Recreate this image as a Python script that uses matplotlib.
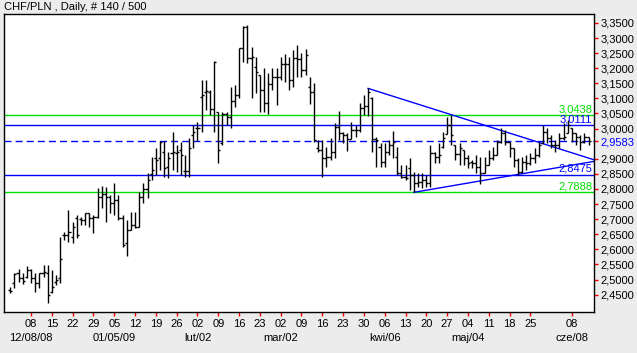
import matplotlib
matplotlib.use("Agg")
import matplotlib.pyplot as plt
from matplotlib.transforms import blended_transform_factory
import numpy as np

plt.rcParams['font.family'] = ['Liberation Sans', 'DejaVu Sans']

title = "CHF/PLN , Daily, # 140 / 500"

opens = [2.4642, 2.4896, 2.5205, 2.5040, 2.5095, 2.5315, 2.5040, 2.4874, 2.5205, 2.5205,
         2.4598, 2.4929, 2.5040, 2.6475, 2.6475, 2.6419, 2.7027, 2.6993, 2.6971, 2.7192,
         2.7027, 2.7082, 2.7744, 2.7832, 2.7744, 2.7523, 2.7634, 2.7027, 2.6221, 2.6640,
         2.6806, 2.6750, 2.7744, 2.7987, 2.8500, 2.9013, 2.9013, 2.9233, 2.8737, 2.9178,
         2.9178, 2.9289, 2.8593, 2.8593, 2.9785, 3.0006, 3.1055, 3.1220, 3.1220, 3.0646,
         3.0558, 2.9509, 3.0470, 3.0393, 3.0911, 3.1110, 3.2655, 3.3373, 3.2324, 3.2048,
         3.1772, 3.1275, 3.0834, 3.1474, 3.1717, 3.1717, 3.2125, 3.2125, 3.1607, 3.2324,
         3.2291, 3.1938, 3.1386, 3.1198, 2.9344, 2.9288, 2.9013, 2.9068, 2.9233, 3.0039,
         2.9840, 2.9785, 2.9642, 2.9951, 2.9951, 3.0668, 3.0745, 3.1000, 2.9642, 2.9400,
         2.8902, 2.9233, 2.9454, 2.9068, 2.8516, 2.8405, 2.8681, 2.8460, 2.8185, 2.8240,
         2.8295, 2.8185, 2.9200, 2.9068, 2.9400, 2.9808, 3.0117, 2.9454, 2.9145, 2.9289,
         2.9013, 2.8902, 2.8847, 2.8737, 2.8516, 2.8792, 2.9035, 2.9123, 2.9565, 2.9841,
         2.9565, 2.9344, 2.8958, 2.8549, 2.8902, 2.8847, 2.9013, 2.9123, 2.9510, 2.9896,
         2.9675, 2.9454, 2.9454, 2.9675, 2.9841, 3.0006, 2.9841, 2.9730, 2.9565, 2.9730]
highs = [2.4764, 2.5205, 2.5337, 2.5227, 2.5448, 2.5337, 2.5205, 2.5227, 2.5481, 2.5481,
         2.5315, 2.5150, 2.6419, 2.6585, 2.7302, 2.6916, 2.7137, 2.7082, 2.7214, 2.7192,
         2.7137, 2.8020, 2.8097, 2.8075, 2.7799, 2.8186, 2.7799, 2.7137, 2.6971, 2.7247,
         2.7247, 2.7910, 2.8186, 2.8539, 2.9068, 2.9344, 2.9587, 2.9587, 2.9233, 2.9896,
         2.9454, 2.9565, 2.9123, 2.9675, 3.0117, 3.0227, 3.1607, 3.1607, 3.1275, 3.2236,
         3.0558, 3.0558, 3.0558, 3.1386, 3.1441, 3.2677, 3.3406, 3.3428, 3.2688, 3.2379,
         3.1772, 3.1993, 3.1849, 3.1993, 3.1993, 3.2379, 3.2457, 3.2379, 3.2600, 3.2766,
         3.2489, 3.2622, 3.1717, 3.1496, 2.9620, 2.9620, 2.9399, 2.9675, 3.0171, 3.0580,
         2.9896, 2.9840, 3.0227, 3.0116, 3.0834, 3.1110, 3.1331, 3.1055, 2.9730, 2.9509,
         2.9509, 2.9620, 2.9929, 2.9399, 2.8792, 2.8792, 2.9013, 2.8571, 2.8516, 2.8516,
         2.8460, 2.9454, 2.9233, 2.9509, 2.9900, 3.0393, 3.0448, 2.9454, 2.9510, 2.9289,
         2.9123, 2.8958, 2.9123, 2.9068, 2.9068, 2.9289, 2.9399, 2.9620, 3.0006, 2.9951,
         2.9565, 2.9344, 2.9013, 2.9068, 2.9123, 2.9178, 2.9344, 2.9565, 3.0117, 3.0006,
         2.9785, 2.9620, 2.9841, 3.0172, 3.0282, 3.0006, 2.9841, 2.9785, 2.9841, 2.9730]
lows = [2.4565, 2.4709, 2.4929, 2.4852, 2.5040, 2.4896, 2.4576, 2.4709, 2.5095, 2.4234,
        2.4565, 2.4819, 2.4896, 2.6309, 2.6254, 2.6221, 2.6364, 2.6806, 2.6806, 2.6750,
        2.6530, 2.7027, 2.7358, 2.6916, 2.7192, 2.7137, 2.6971, 2.6088, 2.5779, 2.6640,
        2.6695, 2.6750, 2.7523, 2.7689, 2.8300, 2.8461, 2.8626, 2.8406, 2.8350, 2.8626,
        2.8571, 2.8461, 2.8406, 2.8406, 2.9344, 2.9587, 2.9896, 3.0613, 3.0448, 2.9874,
        2.8847, 2.9454, 3.0117, 3.0006, 3.0724, 3.0999, 3.2214, 3.2159, 3.0999, 3.1165,
        3.0558, 3.0558, 3.0470, 3.1275, 3.0779, 3.1607, 3.1551, 3.1275, 3.1386, 3.1717,
        3.1717, 3.1772, 3.0801, 2.9564, 2.9233, 2.8383, 2.8737, 2.8957, 2.9013, 2.9620,
        2.9509, 2.9255, 2.9642, 2.9730, 2.9896, 3.0447, 3.0414, 2.9233, 2.8737, 2.8737,
        2.8737, 2.9123, 2.9013, 2.8460, 2.8350, 2.8295, 2.7964, 2.7888, 2.8074, 2.8019,
        2.8074, 2.8074, 2.8847, 2.8847, 2.9350, 2.9808, 2.9454, 2.8958, 2.8792, 2.8792,
        2.8704, 2.8704, 2.8516, 2.8152, 2.8516, 2.8792, 2.8958, 2.9123, 2.9510, 2.9454,
        2.9068, 2.8737, 2.8461, 2.8516, 2.8626, 2.8792, 2.8847, 2.9068, 2.9510, 2.9510,
        2.9344, 2.9234, 2.9344, 2.9620, 2.9841, 2.9565, 2.9454, 2.9289, 2.9510, 2.9454]
closes = [2.4620, 2.5183, 2.5040, 2.4951, 2.5315, 2.5040, 2.4896, 2.5205, 2.5238, 2.4488,
          2.4764, 2.4985, 2.5669, 2.6475, 2.6585, 2.6750, 2.6475, 2.6971, 2.7192, 2.7027,
          2.7082, 2.7744, 2.7832, 2.7744, 2.7523, 2.7634, 2.7027, 2.6143, 2.6640, 2.6806,
          2.6750, 2.7744, 2.7987, 2.8296, 2.8640, 2.8957, 2.9565, 2.8681, 2.9013, 2.9233,
          2.9233, 2.9123, 2.8593, 2.9344, 2.9896, 3.0028, 3.1110, 3.1242, 3.0646, 3.2200,
          2.9289, 3.0470, 3.0393, 3.0911, 3.1110, 3.2655, 3.3373, 3.2324, 3.2379, 3.1883,
          3.1275, 3.0834, 3.1474, 3.1717, 3.1717, 3.2125, 3.2125, 3.1607, 3.2324, 3.2291,
          3.1938, 3.2434, 3.1198, 2.9620, 2.9288, 2.9013, 2.9068, 2.9233, 3.0039, 2.9840,
          2.9785, 2.9642, 2.9951, 2.9951, 3.0668, 3.0745, 3.1198, 2.9642, 2.9620, 2.8902,
          2.9233, 2.9454, 2.9564, 2.8516, 2.8405, 2.8350, 2.8460, 2.8185, 2.8240, 2.8295,
          2.8185, 2.9200, 2.9068, 2.9123, 2.9700, 3.0117, 2.9785, 2.9145, 2.9344, 2.9013,
          2.8847, 2.8847, 2.8737, 2.8516, 2.8792, 2.9035, 2.9123, 2.9565, 2.9841, 2.9565,
          2.9344, 2.8958, 2.8549, 2.8902, 2.8847, 2.9013, 2.9123, 2.9454, 2.9896, 2.9675,
          2.9454, 2.9454, 2.9675, 2.9730, 3.0117, 2.9841, 2.9730, 2.9565, 2.9730, 2.9583]

# horizontal levels
green_levels = [3.0438, 2.7888]
blue_levels = [3.0111, 2.8475]
last_close = 2.9583

# trend lines (bar index, price)
down_trend = [(86, 3.1331), (106, 3.0460)]
up_trend = [(97, 2.7888), (122, 2.8480)]

# x-axis ticks (bar index of Mondays)
xtick_idx = [5, 10, 15, 20, 25, 30, 35, 40, 45, 50, 55, 60, 65, 70, 75, 80, 85,
             90, 95, 100, 105, 110, 115, 120, 125, 135]
xtick_lbl = ["08", "15", "22", "29", "05", "12", "19", "26", "02", "09", "16", "23",
             "02", "09", "16", "23", "30", "06", "13", "20", "27", "04", "11", "18",
             "25", "08"]
month_idx = [5, 25, 45, 65, 90, 110, 135]
month_lbl = ["12/08/08", "01/05/09", "lut/02", "mar/02", "kwi/06", "maj/04", "cze/08"]

ytick_vals = [3.35, 3.30, 3.25, 3.20, 3.15, 3.10, 3.05, 3.00, 2.90, 2.85, 2.80,
              2.75, 2.70, 2.65, 2.60, 2.55, 2.50, 2.45]

W, H = 637, 353
fig = plt.figure(figsize=(W / 100, H / 100), dpi=100, facecolor='#ECECEC')
ax = fig.add_axes([4 / W, 1 - 312 / H, 590 / W, 298 / H])
ax.set_facecolor('white')
xmin, xmax = -1.5, 140.3
ax.set_xlim(xmin, xmax)
ax.set_ylim(2.3925, 3.3795)

GREEN = '#00E000'
BLUE = '#0000FF'

for lv in green_levels:
    ax.axhline(lv, color=GREEN, lw=1.0, zorder=1)
for lv in blue_levels:
    ax.axhline(lv, color=BLUE, lw=1.0, zorder=1)
ax.axhline(last_close, color=BLUE, lw=1.0, ls=(0, (5, 3)), zorder=1)

x = np.arange(len(closes))
ax.vlines(x, lows, highs, color='black', lw=1.0, zorder=3)
ax.hlines(opens, x - 0.5, x, color='black', lw=1.0, zorder=3)
ax.hlines(closes, x, x + 0.5, color='black', lw=1.0, zorder=3)

for (x0, y0), (x1, y1) in [down_trend, up_trend]:
    slope = (y1 - y0) / (x1 - x0)
    ax.plot([x0, xmax], [y0, y0 + slope * (xmax - x0)], color=BLUE, lw=1.0, zorder=2)

# level labels
trans_lbl = blended_transform_factory(ax.transAxes, ax.transData)
for lv, col in [(green_levels[0], GREEN), (blue_levels[0], BLUE),
                (blue_levels[1], BLUE), (green_levels[1], GREEN)]:
    ax.text(0.997, lv + 0.003, f"{lv:.4f}".replace('.', ','), color=col,
            ha='right', va='bottom', fontsize=8, transform=trans_lbl, zorder=4)

# y axis right
ax.yaxis.tick_right()
yt = ytick_vals + [last_close]
ax.set_yticks(yt)
ax.set_yticklabels([f"{v:.4f}".replace('.', ',') for v in yt], fontsize=8)
ax.get_yticklabels()[-1].set_color(BLUE)
ax.tick_params(axis='y', colors='red', labelcolor='black', length=3, width=1, pad=1.5)
ax.get_yticklabels()[-1].set_color(BLUE)

ax.set_xticks(xtick_idx)
ax.set_xticklabels(xtick_lbl, fontsize=8)
ax.tick_params(axis='x', colors='red', labelcolor='black', length=3, width=1, pad=2)

trans_m = blended_transform_factory(ax.transData, ax.transAxes)
for i, lbl in zip(month_idx, month_lbl):
    ax.text(i, -25.7 / 298, lbl, ha='center', va='center', fontsize=8, transform=trans_m)

for s in ax.spines.values():
    s.set_color('black')
    s.set_linewidth(1.0)

fig.text(4 / W, 1 - 7 / H, title, ha='left', va='center', fontsize=8)

fig.savefig('out.png', dpi=100, facecolor=fig.get_facecolor())
